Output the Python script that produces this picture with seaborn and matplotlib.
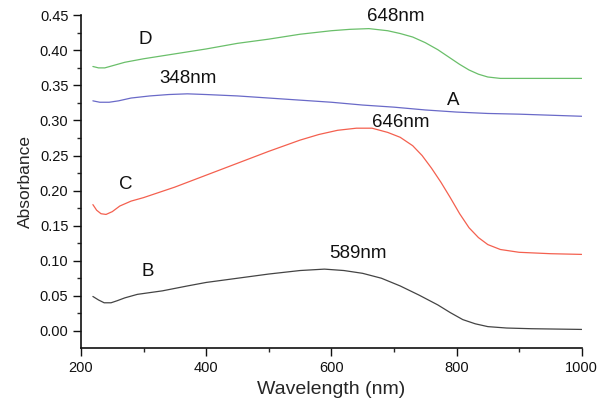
import pandas as pd
import numpy as np
import seaborn as sns
import matplotlib.pyplot as plt
from matplotlib.ticker import MultipleLocator

# (wavelength nm, absorbance)
wl_d = [219, 228, 238, 250, 270, 300, 350, 400, 450, 500, 550, 600, 630, 660, 690, 710, 730,
        750, 770, 790, 805, 820, 835, 850, 870, 900, 1000]
abs_d = [0.377, 0.375, 0.375, 0.378, 0.383, 0.388, 0.395, 0.402, 0.410, 0.416, 0.423, 0.428, 0.430,
         0.431, 0.428, 0.424, 0.419, 0.411, 0.401, 0.389, 0.380, 0.372, 0.366, 0.362, 0.360, 0.360, 0.360]

wl_a = [219, 230, 245, 260, 280, 310, 340, 370, 400, 450, 500, 550, 600, 650, 700, 750, 800, 850, 900, 1000]
abs_a = [0.328, 0.326, 0.326, 0.328, 0.332, 0.335, 0.337, 0.338, 0.337, 0.335, 0.332, 0.329, 0.326,
         0.322, 0.319, 0.315, 0.312, 0.310, 0.309, 0.306]

wl_c = [219, 225, 232, 240, 250, 262, 280, 300, 350, 400, 450, 500, 550, 580, 610, 640, 665, 690,
        710, 730, 745, 760, 775, 790, 805, 820, 835, 850, 870, 900, 950, 1000]
abs_c = [0.180, 0.172, 0.167, 0.166, 0.170, 0.178, 0.185, 0.190, 0.205, 0.222, 0.239, 0.256, 0.272,
         0.280, 0.286, 0.289, 0.289, 0.283, 0.276, 0.264, 0.250, 0.232, 0.212, 0.190, 0.167, 0.147,
         0.133, 0.123, 0.116, 0.112, 0.110, 0.109]

wl_b = [219, 228, 237, 248, 258, 270, 290, 330, 370, 400, 450, 500, 550, 589, 620, 650, 680, 710,
        740, 770, 790, 810, 830, 850, 880, 920, 1000]
abs_b = [0.049, 0.044, 0.040, 0.040, 0.043, 0.047, 0.052, 0.057, 0.064, 0.069, 0.075, 0.081, 0.086,
         0.088, 0.086, 0.082, 0.075, 0.064, 0.051, 0.037, 0.026, 0.016, 0.010, 0.006, 0.004, 0.003, 0.002]

series = ["D", "A", "C", "B"]
colors = ["#6abf6a", "#6a6ac8", "#f4604f", "#444444"]

labels = ["D", "648nm", "348nm", "A", "646nm", "C", "B", "589nm"]
label_x = [302, 703, 371, 794, 711, 272, 307, 642]
label_y = [0.415, 0.448, 0.360, 0.329, 0.297, 0.209, 0.084, 0.110]

df = pd.concat([
    pd.DataFrame({"Wavelength": w, "Absorbance": a, "sample": s})
    for w, a, s in zip([wl_d, wl_a, wl_c, wl_b], [abs_d, abs_a, abs_c, abs_b], series)
])

sns.set_style("ticks")
plt.rcParams["font.family"] = ["Liberation Sans", "DejaVu Sans"]

fig = plt.figure(figsize=(6, 4.04), dpi=100)
ax = fig.add_axes([0.135, 0.1386, 0.8345, 0.8244])

sns.lineplot(data=df, x="Wavelength", y="Absorbance", hue="sample",
             palette=dict(zip(series, colors)), linewidth=0.9,
             legend=False, ax=ax, sort=False, estimator=None)

for t, x, y in zip(labels, label_x, label_y):
    ax.text(x, y, t, ha="center", va="center", fontsize=13.5, color="#111111")

ax.set_xlim(200, 1000)
ax.set_ylim(-0.0245, 0.4505)
ax.xaxis.set_major_locator(MultipleLocator(200))
ax.xaxis.set_minor_locator(MultipleLocator(100))
ax.yaxis.set_major_locator(MultipleLocator(0.05))
ax.yaxis.set_minor_locator(MultipleLocator(0.025))
ax.yaxis.set_major_formatter(plt.FormatStrFormatter("%.2f"))
ax.tick_params(which="major", length=5.5, width=1, labelsize=10.5, colors="#111111")
ax.tick_params(which="minor", length=3, width=1)
ax.set_xlabel("Wavelength (nm)", fontsize=14, labelpad=5)
ax.set_ylabel("Absorbance", fontsize=12.5, labelpad=5)
sns.despine(ax=ax)
for sp in ["left", "bottom"]:
    ax.spines[sp].set_linewidth(1.2)
    ax.spines[sp].set_color("#111111")

fig.savefig("out.png", dpi=100)
